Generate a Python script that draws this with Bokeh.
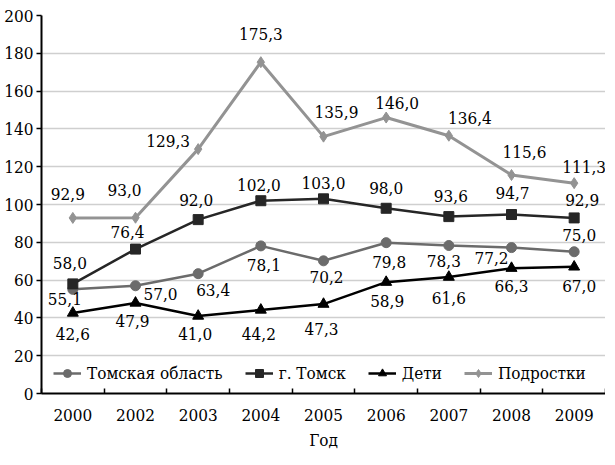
from bokeh.plotting import figure
from bokeh.models import (Range1d, FixedTicker, Legend, LegendItem, ColumnDataSource,
                          LinearAxis)
from bokeh.core.properties import value
from bokeh.embed import file_html
from bokeh.resources import INLINE

years = ["2000", "2002", "2003", "2004", "2005", "2006", "2007", "2008", "2009"]
tomsk_oblast = [55.1, 57.0, 63.4, 78.1, 70.2, 79.8, 78.3, 77.2, 75.0]
tomsk_city = [58.0, 76.4, 92.0, 102.0, 103.0, 98.0, 93.6, 94.7, 92.9]
deti = [42.6, 47.9, 41.0, 44.2, 47.3, 58.9, 61.6, 66.3, 67.0]
podrostki = [92.9, 93.0, 129.3, 175.3, 135.9, 146.0, 136.4, 115.6, 111.3]
y_ticks = [0, 20, 40, 60, 80, 100, 120, 140, 160, 180, 200]

# label offsets (pixels) - styling only
off_podr = [(-5, -24), (-11, -28), (-30, -8), (0, -28), (13, -25), (11, -15), (21, -18), (13, -23), (10, -16)]
off_city = [(-3, -21), (-8, -17), (-2, -20), (-2, -16), (0, -16), (0, -20), (2, -21), (1, -22), (8, -18)]
off_obl = [(-8, 10), (25, 8), (15, 16), (3, 19), (3, 16), (3, 19), (-5, 15), (-20, 10), (5, -17)]
off_deti = [(0, 21), (-3, 18), (-3, 18), (-2, 24), (-2, 25), (1, 19), (0, 21), (0, 18), (5, 19)]

FONT = "'DejaVu Serif Condensed', 'DejaVu Serif'"
FS = "17px"
xs = list(range(len(years)))

p = figure(width=605, height=452, output_backend="svg", toolbar_location=None,
           x_range=Range1d(-0.5, len(years) - 0.5), y_range=Range1d(0, 200),
           min_border_left=41, min_border_right=0, min_border_top=15, min_border_bottom=10,
           x_axis_location=None, y_axis_location=None)
p.outline_line_color = None
p.background_fill_color = "white"

# axes
yaxis = LinearAxis(ticker=FixedTicker(ticks=y_ticks))
yaxis.axis_line_width = 2
yaxis.axis_line_color = "black"
yaxis.major_tick_in = 0
yaxis.major_tick_out = 5
yaxis.major_tick_line_width = 1.5
yaxis.minor_tick_line_color = None
yaxis.major_label_text_font = FONT
yaxis.major_label_text_font_size = FS
yaxis.major_label_text_color = "black"
yaxis.major_label_standoff = 3
p.add_layout(yaxis, "left")

xaxis = LinearAxis(ticker=FixedTicker(ticks=xs, minor_ticks=[i - 0.5 for i in range(len(years) + 1)]))
xaxis.major_label_overrides = {i: y for i, y in enumerate(years)}
xaxis.axis_line_width = 2
xaxis.axis_line_color = "black"
xaxis.major_tick_line_color = None
xaxis.minor_tick_in = 5
xaxis.minor_tick_out = 0
xaxis.minor_tick_line_width = 1.5
xaxis.minor_tick_line_color = "black"
xaxis.major_label_text_font = FONT
xaxis.major_label_text_font_size = FS
xaxis.major_label_text_color = "black"
xaxis.major_label_standoff = 9
xaxis.axis_label = "Год"
xaxis.axis_label_text_font = FONT
xaxis.axis_label_text_font_size = FS
xaxis.axis_label_text_font_style = "normal"
xaxis.axis_label_text_color = "black"
xaxis.axis_label_standoff = 6
p.add_layout(xaxis, "below")

p.xgrid.visible = False
p.ygrid.ticker = FixedTicker(ticks=y_ticks)
p.ygrid.grid_line_color = "#cfcfcf"
p.ygrid.grid_line_width = 1.5

series = [
    ("Томская область", tomsk_oblast, "#6b6b6b", "circle", 10, 2.5, off_obl),
    ("г. Томск", tomsk_city, "#262626", "square", 10, 2.5, off_city),
    ("Дети", deti, "#000000", "triangle", 11, 2.5, off_deti),
    ("Подростки", podrostki, "#939393", "diamond", 11, 3, off_podr),
]

items = []
for name, vals, col, marker, size, lw, offs in series:
    src = ColumnDataSource(dict(x=xs, y=vals,
                                lab=[f"{v:.1f}".replace(".", ",") for v in vals],
                                dx=[o[0] for o in offs], dy=[o[1] for o in offs]))
    r1 = p.line("x", "y", source=src, line_color=col, line_width=lw)
    r2 = p.scatter("x", "y", source=src, marker=marker, size=size, fill_color=col, line_color=col)
    items.append((name, [r1, r2], src))

for name, rs, src in items:
    p.text("x", "y", text="lab", source=src, x_offset="dx", y_offset="dy",
           text_font=value(FONT), text_font_size=FS, text_color="black",
           text_align="center", text_baseline="middle")

legend = Legend(items=[LegendItem(label=n, renderers=rs) for n, rs, _ in items],
                orientation="horizontal", location=(12, 10))
legend.background_fill_alpha = 0
legend.border_line_alpha = 0
legend.label_text_font = FONT
legend.label_text_font_size = FS
legend.label_text_color = "black"
legend.glyph_width = 28
legend.glyph_height = 20
legend.label_standoff = 6
legend.spacing = 22
legend.padding = 0
legend.margin = 0
p.add_layout(legend, "center")

open("out.html", "w").write(file_html(p, INLINE))
